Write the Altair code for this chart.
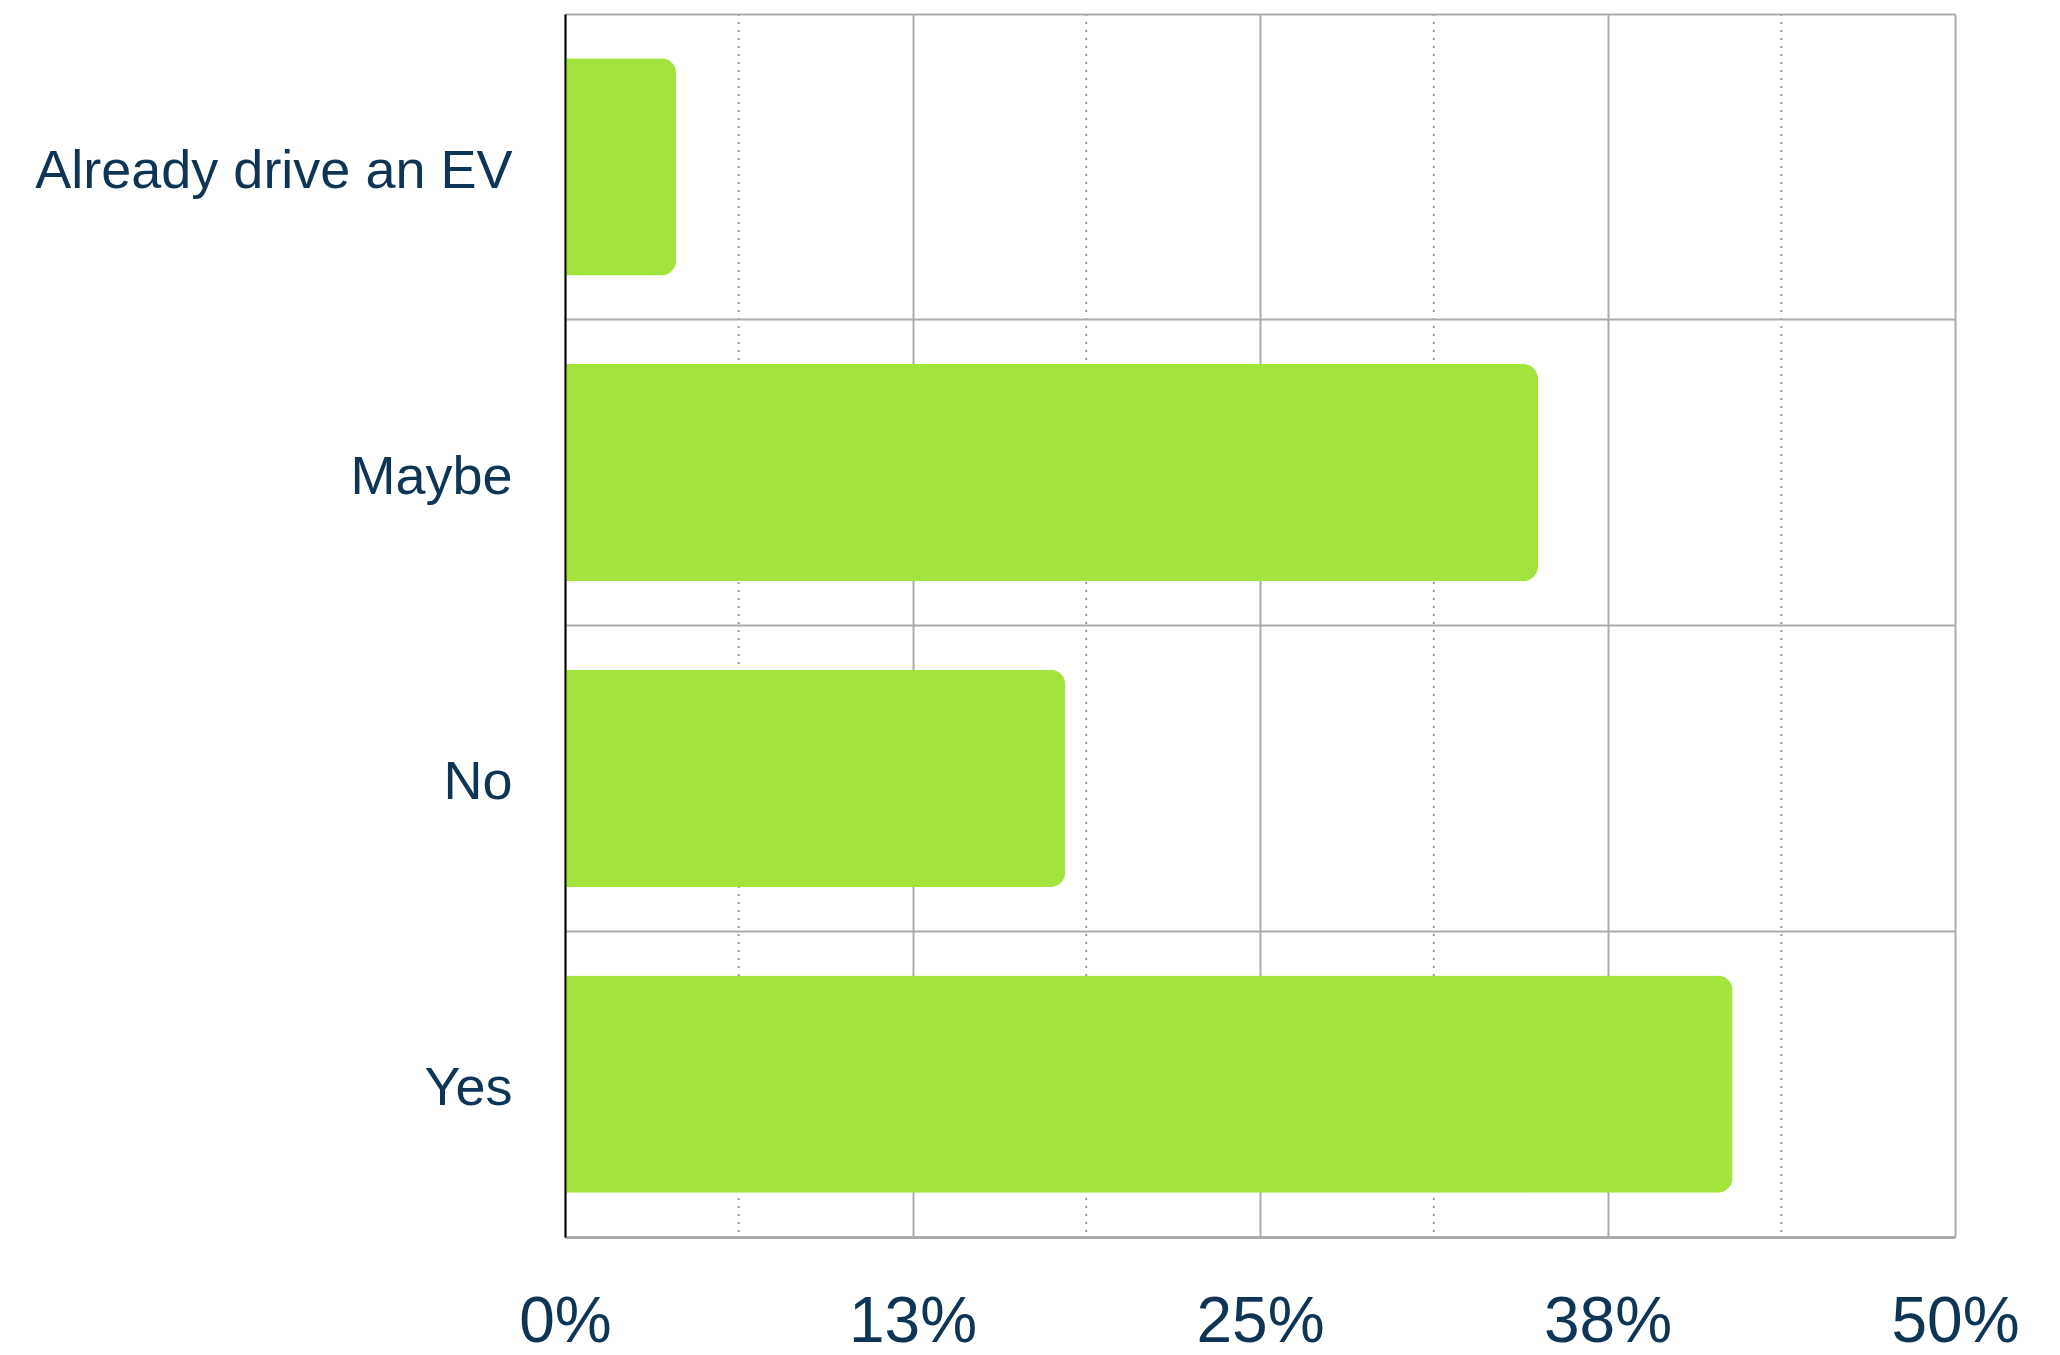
import altair as alt
import pandas as pd

categories = ["Already drive an EV", "Maybe", "No", "Yes"]
shares = [0.04, 0.35, 0.18, 0.42]
major_ticks = [0, 0.125, 0.25, 0.375, 0.5]
minor_ticks = [0.0625, 0.1875, 0.3125, 0.4375]

df = pd.DataFrame({"answer": categories, "share": shares})
df_minor = pd.DataFrame({"tick": minor_ticks})

x_scale = alt.Scale(domain=[0, 0.5], nice=False, zero=True)
x_axis = alt.Axis(
    values=major_ticks,
    format=".0%",
    title=None,
    grid=True,
    gridColor="#a9acab",
    gridWidth=2,
    ticks=False,
    labelFontSize=64,
    labelFont="Liberation Sans",
    labelColor="#0f3556",
    labelPadding=53,
    domainColor="#a9acab",
    domainWidth=3,
    labelFlush=False,
)

rules = alt.Chart(df_minor).mark_rule(
    color="#9a9d9c", strokeWidth=2, strokeDash=[2, 6]
).encode(
    x=alt.X("tick:Q", scale=x_scale, axis=x_axis)
)

bars = alt.Chart(df).mark_bar(
    color="#a2e33e",
    height={"band": 0.71},
    cornerRadiusEnd=15,
).encode(
    x=alt.X("share:Q", scale=x_scale, axis=x_axis),
    y=alt.Y(
        "answer:N",
        sort=categories,
        scale=alt.Scale(paddingInner=0, paddingOuter=0),
        axis=alt.Axis(
            title=None,
            grid=True,
            gridColor="#a9acab",
            gridWidth=2,
            bandPosition=0,
            ticks=False,
            domainColor="#000000",
            domainWidth=2,
            labelFontSize=54,
            labelFont="Liberation Sans",
            labelColor="#0f3556",
            labelPadding=53,
            labelOffset=5,
            labelLimit=0,
            minExtent=557,
            maxExtent=557,
            zindex=1,
        ),
    ),
)

chart = alt.layer(rules, bars).properties(
    width=1390,
    height=1223,
    padding={"left": 0, "top": 5, "right": 5, "bottom": 5},
).configure_view(stroke=None)

chart.save("out.html", embed_options={"renderer": "svg", "actions": False})
